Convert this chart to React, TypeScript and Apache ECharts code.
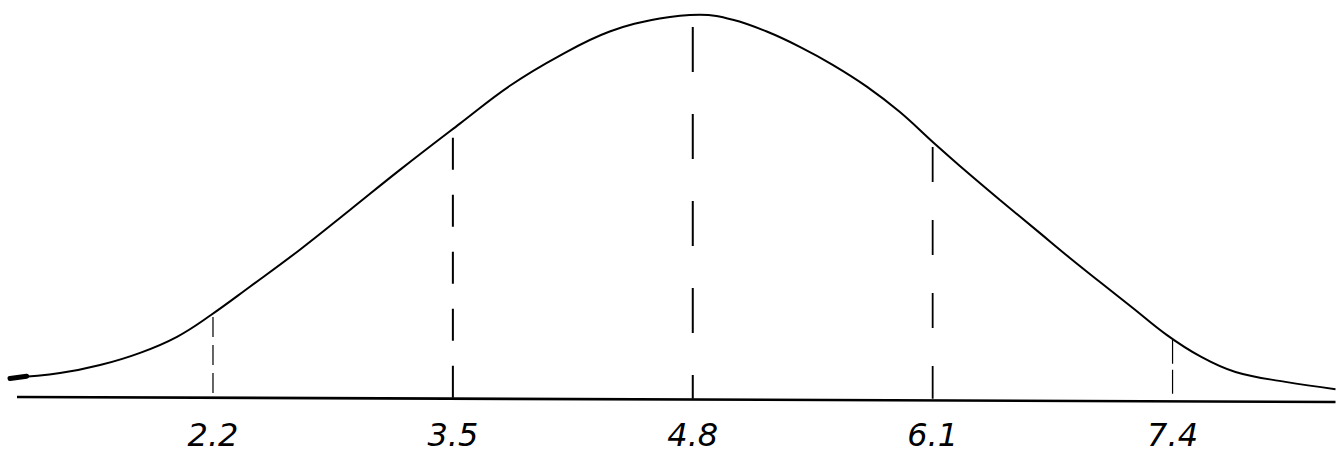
import React, { useEffect, useRef } from "react";
import * as echarts from "echarts";

// Hand-drawn bell curve (x on the value scale, y as % of the peak height)
const curveX = [1.1, 1.371, 1.588, 1.805, 2.005, 2.189, 2.4, 2.671, 2.942, 3.213, 3.538, 3.809, 4.08, 4.35, 4.621, 4.838, 5.017, 5.201, 5.38, 5.558, 5.743, 5.921, 6.105, 6.246, 6.463, 6.68, 6.842, 7.005, 7.183, 7.368, 7.546, 7.741, 8.012, 8.283];
const curveY = [5.4, 6.7, 8.8, 12.0, 16.2, 21.9, 29.3, 39.0, 49.4, 59.9, 72.0, 81.9, 89.8, 96.1, 99.5, 100.5, 99.2, 96.1, 92.1, 87.4, 81.7, 75.1, 67.0, 61.0, 52.1, 43.4, 36.9, 30.6, 23.8, 16.7, 11.2, 7.0, 4.4, 2.5];

// Vertical dashed markers (positions and the height where each meets the curve)
const markerValues = [2.2, 3.5, 4.8, 6.1, 7.4];
const markerHeights = [21.4, 68.3, 97.3, 65.9, 15.4];
const tickLabels = ["2.2", "3.5", "4.8", "6.1", "7.4"];

// Hand-drawn baseline (slightly sloped) and the thick pen start of the curve
const baselineX = [1.138, 8.283];
const baselineY = [0.45, -0.86];
const leadInX = [1.1, 1.19];
const leadInY = [5.3, 5.9];

const markerDash = [[20, 8], [32, 25], [45, 42], [35, 38], [24, 6]];
const markerWidth = [1.2, 2, 2, 1.8, 1.2];

export default function App() {
  const ref = useRef<HTMLDivElement>(null);

  useEffect(() => {
    if (!ref.current) return;
    const chart = echarts.init(ref.current, null, { renderer: "svg" });

    const markerSeries = markerValues.map((v, i) => ({
      type: "line" as const,
      data: [
        [v, markerHeights[i]],
        [v, 0],
      ],
      showSymbol: false,
      silent: true,
      clip: false,
      lineStyle: { color: "#000", width: markerWidth[i], type: markerDash[i] },
    }));

    chart.setOption({
      animation: false,
      backgroundColor: "#fff",
      grid: {
        left: 10,
        right: 0.5,
        top: 9,
        bottom: 57.3,
        containLabel: false,
        outerBoundsMode: "none",
      },
      xAxis: {
        type: "value",
        min: 1.1,
        max: 8.283,
        splitLine: { show: false },
        axisTick: { show: false },
        axisLine: { show: false },
        axisLabel: {
          customValues: markerValues,
          formatter: (v: number) => {
            const i = markerValues.findIndex((m) => Math.abs(m - v) < 1e-6);
            return i >= 0 ? tickLabels[i] : "";
          },
          margin: 20,
          color: "#000",
          fontSize: 32,
          fontStyle: "italic",
          fontFamily: "DejaVu Sans",
        },
      },
      yAxis: {
        type: "value",
        min: 0,
        max: 102,
        show: false,
      },
      series: [
        {
          type: "line",
          data: curveX.map((x, i) => [x, curveY[i]]),
          smooth: 0.4,
          showSymbol: false,
          silent: true,
          clip: false,
          lineStyle: { color: "#000", width: 2 },
        },
        {
          type: "line",
          data: baselineX.map((x, i) => [x, baselineY[i]]),
          showSymbol: false,
          silent: true,
          clip: false,
          lineStyle: { color: "#000", width: 2.6 },
        },
        {
          type: "line",
          data: leadInX.map((x, i) => [x, leadInY[i]]),
          showSymbol: false,
          silent: true,
          clip: false,
          lineStyle: { color: "#000", width: 5, cap: "round" },
        },
        ...markerSeries,
      ],
    });

    return () => chart.dispose();
  }, []);

  return (
    <div
      ref={ref}
      style={{ position: "absolute", left: 0, top: 0, width: 1336, height: 456, background: "#fff" }}
    />
  );
}
